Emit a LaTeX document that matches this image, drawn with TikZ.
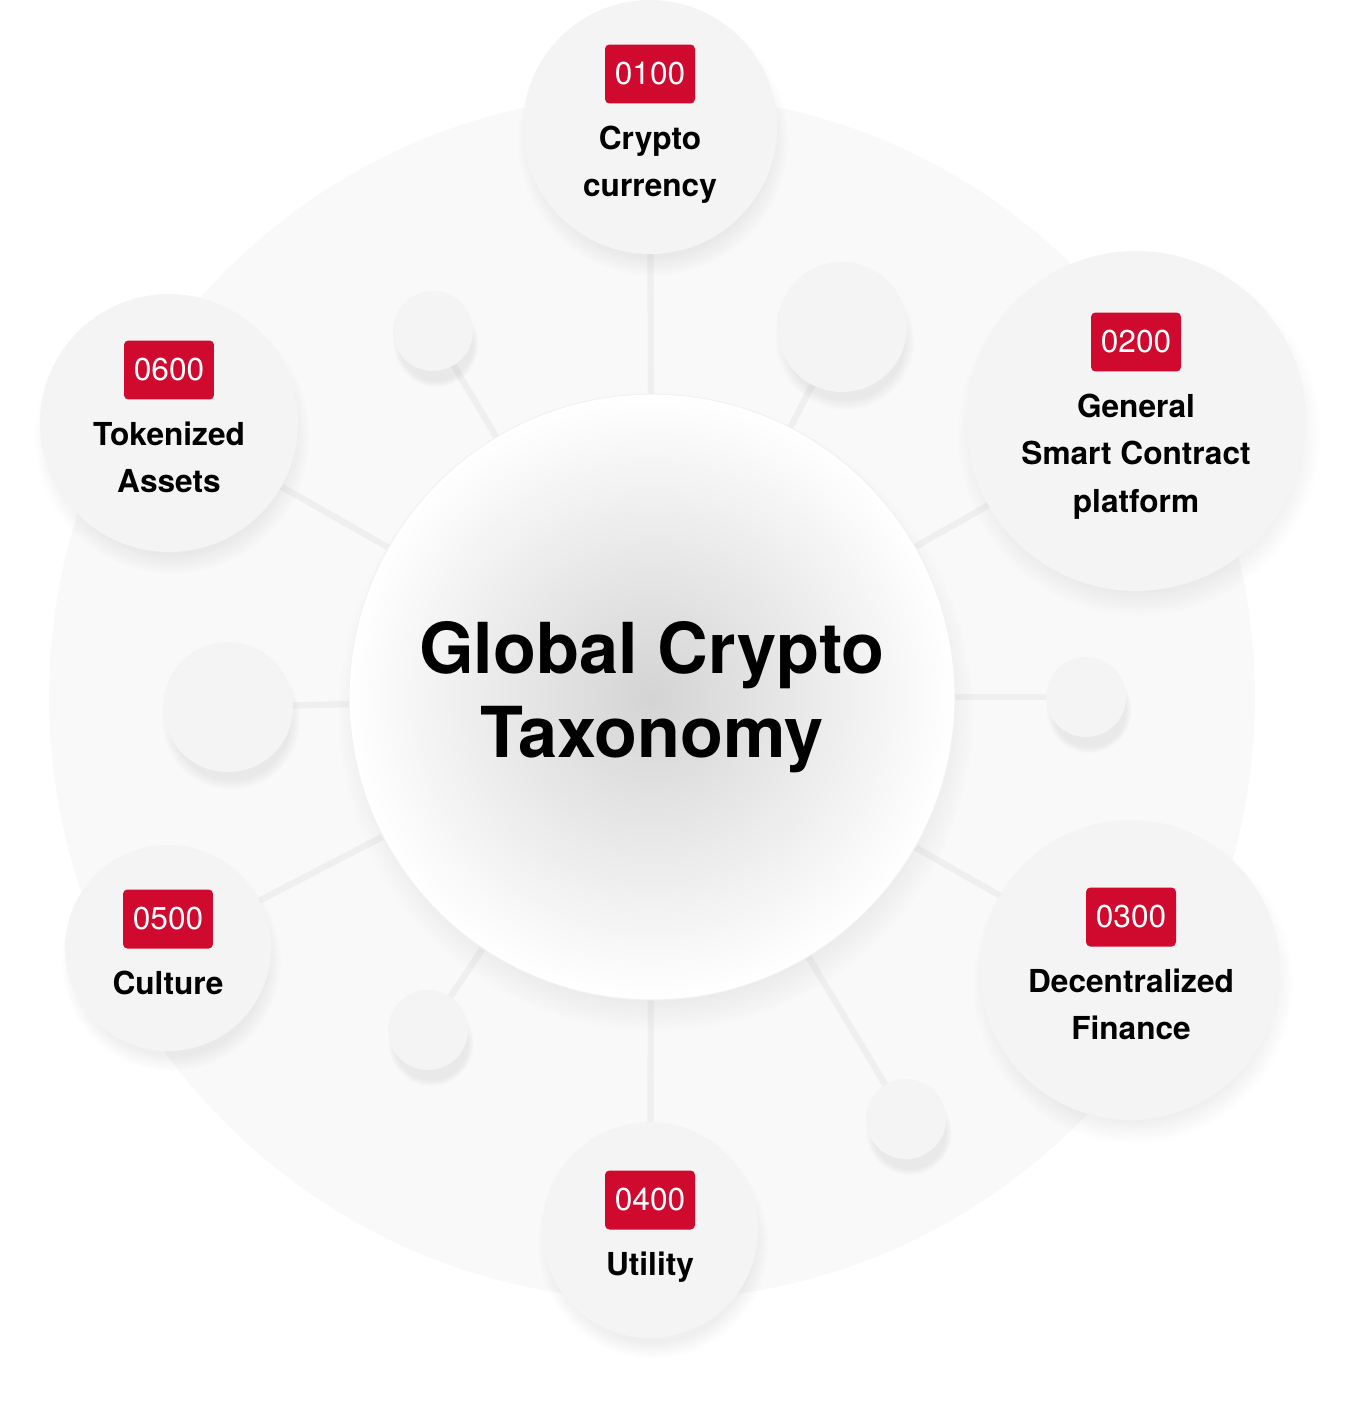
\documentclass[tikz,border=0pt]{standalone}
\usepackage{fontspec}
\setmainfont{TeX Gyre Heros}
\usetikzlibrary{shadows}
\definecolor{tagred}{RGB}{208,10,46}
\definecolor{disc}{RGB}{244,244,244}
\definecolor{halo}{RGB}{249,249,249}
\definecolor{spoke}{RGB}{239,239,239}
\pgfdeclarelayer{bg}
\pgfdeclarelayer{spokes}
\pgfsetlayers{bg,spokes,main}
\tikzset{
	sat/.style={circle,fill=disc,inner sep=0pt,minimum size=#1,
		circular drop shadow={shadow xshift=1.5pt,shadow yshift=-7pt,opacity=0.13,shadow scale=1.07}},
	dot/.style={sat=#1},
	hub/.style={circle,inner sep=0pt,minimum size=12.12cm,shading=radial,
		inner color=black!17,outer color=white,draw=black!5,line width=0.6pt,
		circular drop shadow={shadow xshift=2pt,shadow yshift=-9pt,opacity=0.16,shadow scale=1.05},
		font=\fontsize{40}{48}\selectfont\bfseries,align=center},
	tag/.style={fill=tagred,text=white,rounded corners=2.5pt,inner sep=0pt,
		minimum width=1.8cm,minimum height=1.18cm,font=\fontsize{18}{20}\selectfont},
	lbl/.style={font=\fontsize{18}{27}\selectfont\bfseries,align=center,inner sep=0pt,
		anchor=north,yshift=-1.03cm},
	spk/.style={draw=spoke,line width=3.6pt}
}
\begin{document}
\begin{tikzpicture}[x=0.02cm,y=-0.02cm]
	\useasboundingbox (0,0) rectangle (1345,1409);
	\begin{pgfonlayer}{bg}
		\fill[halo] (652,697) circle (12.06cm);
	\end{pgfonlayer}

	\node[hub] (hub) at (652,697) {Global Crypto\\Taxonomy};

	% categories
	\node[sat=5.08cm] (s1) at (650,127) {};
	\node[tag] (t1) at (650,74) {0100};
	\node[lbl] (l1) at (t1) {Crypto\\currency};

	\node[sat=6.8cm] (s2) at (1136,421) {};
	\node[tag] (t2) at (1136,342) {0200};
	\node[lbl] (l2) at (t2) {General\\Smart Contract\\platform};

	\node[sat=6cm] (s3) at (1130,970) {};
	\node[tag] (t3) at (1131,917) {0300};
	\node[lbl] (l3) at (t3) {Decentralized\\Finance};

	\node[sat=4.32cm] (s4) at (650,1230) {};
	\node[tag] (t4) at (650,1200) {0400};
	\node[lbl] (l4) at (t4) {Utility};

	\node[sat=4.12cm] (s5) at (168,948) {};
	\node[tag] (t5) at (168,919) {0500};
	\node[lbl] (l5) at (t5) {Culture};

	\node[sat=5.16cm] (s6) at (169,423) {};
	\node[tag] (t6) at (169,370) {0600};
	\node[lbl] (l6) at (t6) {Tokenized\\Assets};

	% empty discs
	\node[dot=1.6cm] (d1) at (433,331) {};
	\node[dot=2.6cm] (d2) at (842,327) {};
	\node[dot=1.6cm] (d3) at (1086,697) {};
	\node[dot=1.6cm] (d4) at (906,1119) {};
	\node[dot=1.6cm] (d5) at (428,1030) {};
	\node[dot=2.6cm] (d6) at (228,707) {};

	\begin{pgfonlayer}{spokes}
		\foreach \n in {s1,s2,s3,s4,s5,s6,d1,d2,d3,d4,d5,d6}
			\draw[spk] (hub.center) -- (\n.center);
	\end{pgfonlayer}
\end{tikzpicture}
\end{document}
